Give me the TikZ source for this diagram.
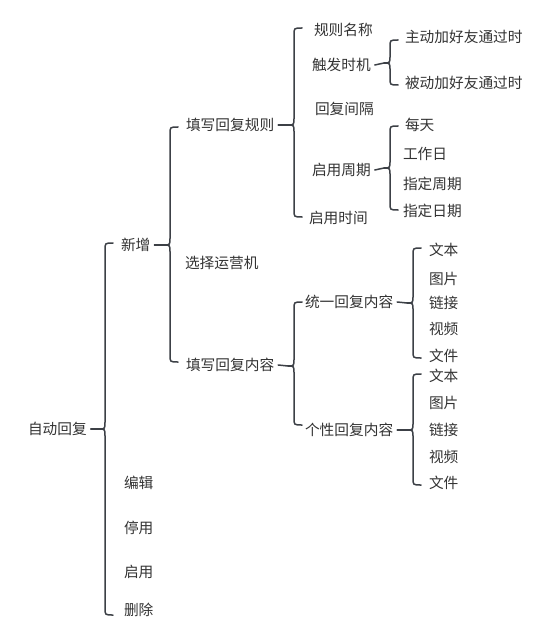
\documentclass[tikz,border=0pt]{standalone}
\usepackage{fontspec}
\setmainfont{Noto Sans CJK SC}
\definecolor{lc}{RGB}{60,64,70}
\definecolor{tc}{RGB}{51,51,51}
\newcommand\brc[4]{\draw[bl] (#1+8,#2) .. controls (#1,#2) .. (#1,#2+7) -- (#1,#3-7) .. controls (#1,#3) .. (#1-6,#3) .. controls (#1,#3) .. (#1,#3+7) -- (#1,#4-7) .. controls (#1,#4) .. (#1+8,#4);}
\begin{document}
\begin{tikzpicture}[x=1pt,y=-1pt,
  lbl/.style={anchor=west,inner sep=0pt,outer sep=0pt,text=tc,font=\fontsize{14.7}{17}\selectfont},
  bl/.style={draw=lc,line width=1.5pt,line cap=round,line join=round}]
\useasboundingbox[fill=white] (0,0) rectangle (550,631);
% level 0-1
\node[lbl] (root) at (28,429) {自动回复};
\node[lbl] (xz) at (121,245) {新增};
\node[lbl] (bj) at (124,483) {编辑};
\node[lbl] (ty) at (124,528) {停用};
\node[lbl] (qy) at (124,572) {启用};
\node[lbl] (sc) at (124,610) {删除};
% level 2
\node[lbl] (gz) at (186,125) {填写回复规则};
\node[lbl] (yy) at (185,263) {选择运营机};
\node[lbl] (nr) at (186,365) {填写回复内容};
% level 3 rules
\node[lbl] (mc) at (314,30) {规则名称};
\node[lbl] (sj) at (312,65) {触发时机};
\node[lbl] (jg) at (315,109) {回复间隔};
\node[lbl] (zq) at (312,170) {启用周期};
\node[lbl] (sjj) at (309,218) {启用时间};
\node[lbl] (zd) at (405,37) {主动加好友通过时};
\node[lbl] (bd) at (405,83) {被动加好友通过时};
\node[lbl] (mt) at (405,125) {每天};
\node[lbl] (gzr) at (403,154) {工作日};
\node[lbl] (zdzq) at (403,184) {指定周期};
\node[lbl] (zdrq) at (403,211) {指定日期};
% level 3 content
\node[lbl] (ty1) at (305,302) {统一回复内容};
\node[lbl] (gx) at (305,430) {个性回复内容};
\node[lbl] (a1) at (429,250) {文本};
\node[lbl] (a2) at (429,279) {图片};
\node[lbl] (a3) at (429,303) {链接};
\node[lbl] (a4) at (429,329) {视频};
\node[lbl] (a5) at (429,356) {文件};
\node[lbl] (b1) at (429,376) {文本};
\node[lbl] (b2) at (429,403) {图片};
\node[lbl] (b3) at (429,430) {链接};
\node[lbl] (b4) at (429,457) {视频};
\node[lbl] (b5) at (429,483) {文件};
% braces
\brc{105}{243}{429}{615}
\draw[bl] ([xshift=4pt]root.east) -- (99,429);
\brc{170}{127}{245}{362}
\draw[bl] ([xshift=4pt]xz.east) -- (164,245);
\brc{294}{28}{125}{217}
\draw[bl] ([xshift=4pt]gz.east) -- (288,125);
\brc{390}{40}{63}{85}
\draw[bl] ([xshift=4pt]sj.east) -- (384,63);
\brc{390}{126}{168}{210}
\draw[bl] ([xshift=4pt]zq.east) -- (384,168);
\brc{294}{302}{366}{425}
\draw[bl] ([xshift=4pt]nr.east) -- (288,366);
\brc{413}{248}{303}{358}
\draw[bl] ([xshift=4pt]ty1.east) -- (407,303);
\brc{413}{374}{430}{485}
\draw[bl] ([xshift=4pt]gx.east) -- (407,430);
\end{tikzpicture}
\end{document}
